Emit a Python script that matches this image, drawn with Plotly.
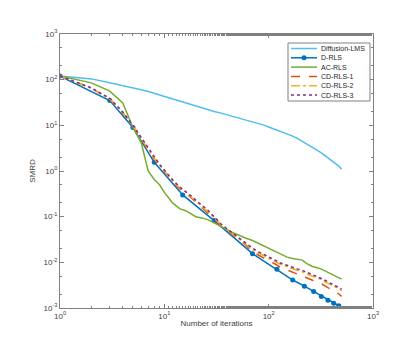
import plotly.graph_objects as go

# ----------------------------------------------------------------------- #
# Data (iterations vs SMRD)
iters = [1, 2, 3, 4, 5, 6, 7, 8, 9, 10, 12, 14, 16, 18, 20, 23, 26, 30, 35, 40, 45, 50,
         60, 70, 80, 90, 100, 115, 130, 150, 170, 190, 210, 230, 260, 290, 320, 350, 380,
         420, 460, 500]

diffusion_lms = [120, 104, 86, 75, 66, 60, 55, 50, 46, 43, 38, 34, 31, 29, 27, 24, 22, 20,
                 18.5, 17, 15.9, 15, 13.5, 12.2, 11.1, 10.1, 9.2, 8.2, 7.3, 6.5, 5.8, 5.1,
                 4.4, 3.95, 3.35, 2.85, 2.5, 2.15, 1.9, 1.6, 1.33, 1.1]

ac_rls = [120, 85, 56, 31, 9, 4.2, 1.0, 0.65, 0.5, 0.34, 0.2, 0.15, 0.135, 0.115, 0.1,
          0.094, 0.086, 0.073, 0.062, 0.052, 0.045, 0.04, 0.034, 0.03, 0.026, 0.023, 0.02,
          0.017, 0.0155, 0.013, 0.0122, 0.0118, 0.0112, 0.0095, 0.0082, 0.0076, 0.0071,
          0.0064, 0.0058, 0.0052, 0.0047, 0.0043]

cd_rls_1 = [120, 65, 37, 18.5, 9.5, 5.0, 2.9, 1.8, 1.3, 0.95, 0.58, 0.41, 0.33, 0.26, 0.21,
            0.16, 0.125, 0.09, 0.063, 0.049, 0.04, 0.033, 0.024, 0.017, 0.0142, 0.0123,
            0.0108, 0.0092, 0.0078, 0.0068, 0.006, 0.0054, 0.005, 0.0046, 0.0041, 0.0037,
            0.0034, 0.003, 0.0027, 0.0024, 0.0021, 0.0018]

cd_rls_2 = [120, 65, 38, 19, 9.8, 5.2, 3.0, 1.9, 1.35, 1.0, 0.6, 0.43, 0.35, 0.27, 0.22,
            0.17, 0.13, 0.095, 0.066, 0.052, 0.042, 0.035, 0.026, 0.019, 0.016, 0.0138,
            0.0122, 0.0104, 0.0091, 0.008, 0.0071, 0.0066, 0.0062, 0.0056, 0.005, 0.0046,
            0.0042, 0.0037, 0.0034, 0.003, 0.0027, 0.0024]

cd_rls_3 = [120, 66, 39, 19.5, 10, 5.4, 3.1, 2.0, 1.4, 1.05, 0.64, 0.45, 0.36, 0.285, 0.23,
            0.18, 0.14, 0.1, 0.069, 0.054, 0.044, 0.037, 0.027, 0.0205, 0.017, 0.0148,
            0.013, 0.0112, 0.0097, 0.0086, 0.0077, 0.0071, 0.0067, 0.006, 0.0054, 0.0049,
            0.0045, 0.004, 0.0036, 0.0032, 0.0029, 0.0026]

# D-RLS drawn through its marker points
d_rls_iters = [1, 3, 5, 8, 15, 30, 70, 120, 170, 220, 270, 320, 370, 420, 470]
d_rls = [120, 35, 9, 1.55, 0.30, 0.082, 0.0155, 0.0071, 0.0041, 0.003, 0.0023, 0.00178,
         0.00148, 0.00127, 0.00112]
d_rls_tail_iters = [470, 500]
d_rls_tail = [0.00112, 0.00105]

x_tickvals = [1, 10, 100, 1000]
x_ticktext = ["10<sup>0</sup>", "10<sup>1</sup>", "10<sup>2</sup>", "10<sup>3</sup>"]
y_tickvals = [1e-3, 1e-2, 1e-1, 1, 10, 100, 1000]
y_ticktext = ["10<sup>-3</sup>", "10<sup>-2</sup>", "10<sup>-1</sup>", "10<sup>0</sup>",
              "10<sup>1</sup>", "10<sup>2</sup>", "10<sup>3</sup>"]

names = ["Diffusion-LMS", "D-RLS", "AC-RLS", "CD-RLS-1", "CD-RLS-2", "CD-RLS-3"]
colors = ["#4DBEEE", "#0072BD", "#77AC30", "#D95319", "#EDB120", "#7E2F8E"]
dashes = ["solid", "solid", "solid", "dash", "dashdot", "dot"]

# ----------------------------------------------------------------------- #
fig = go.Figure()

fig.add_trace(go.Scatter(x=iters, y=diffusion_lms, mode="lines", name=names[0],
                         line=dict(color=colors[0], width=1.5)))
fig.add_trace(go.Scatter(x=d_rls_iters, y=d_rls, mode="lines+markers", name=names[1],
                         line=dict(color=colors[1], width=1.5),
                         marker=dict(color=colors[1], size=5, symbol="circle")))
fig.add_trace(go.Scatter(x=d_rls_tail_iters, y=d_rls_tail, mode="lines",
                         line=dict(color=colors[1], width=1.5)))
fig.add_trace(go.Scatter(x=iters, y=ac_rls, mode="lines", name=names[2],
                         line=dict(color=colors[2], width=1.5)))
fig.add_trace(go.Scatter(x=iters, y=cd_rls_1, mode="lines", name=names[3],
                         line=dict(color=colors[3], width=1.5, dash=dashes[3])))
fig.add_trace(go.Scatter(x=iters, y=cd_rls_2, mode="lines", name=names[4],
                         line=dict(color=colors[4], width=1.5, dash=dashes[4])))
fig.add_trace(go.Scatter(x=iters, y=cd_rls_3, mode="lines", name=names[5],
                         line=dict(color=colors[5], width=1.5, dash=dashes[5])))

# ----------------------------------------------------------------------- #
# Compact MATLAB-style legend (plotly's own legend rows are too tall here)
pw, ph = 313.0, 274.0          # plot area size in px
def px_x(p):
    return p / pw
def px_y(p):
    return 1 - p / ph

box_l, box_r, box_t, box_b = 228, 310, 9, 67
fig.add_shape(type="rect", xref="paper", yref="paper",
              x0=px_x(box_l), x1=px_x(box_r), y0=px_y(box_b), y1=px_y(box_t),
              fillcolor="white", line=dict(color="#808080", width=1), layer="above")
row_h = 9.3
for i, (nm, c, d) in enumerate(zip(names, colors, dashes)):
    yy = px_y(box_t + 5.5 + i * row_h)
    fig.add_shape(type="line", xref="paper", yref="paper",
                  x0=px_x(231), x1=px_x(257), y0=yy, y1=yy,
                  line=dict(color=c, width=1.5, dash=d), layer="above")
    if nm == "D-RLS":
        fig.add_shape(type="circle", xref="paper", yref="paper",
                      x0=px_x(241.5), x1=px_x(246.5), y0=yy - 2.5 / ph, y1=yy + 2.5 / ph,
                      fillcolor=c, line=dict(color=c, width=0), layer="above")
    fig.add_annotation(xref="paper", yref="paper", x=px_x(259), y=yy, text=nm,
                       showarrow=False, xanchor="left", yanchor="middle",
                       font=dict(size=7, color="#262626"))

axis_common = dict(type="log", showgrid=False, zeroline=False, showline=True, mirror="ticks",
                   linecolor="#808080", linewidth=1, ticks="inside", ticklen=4,
                   tickcolor="#808080", tickfont=dict(size=8, color="#404040"),
                   minor=dict(ticks="inside", ticklen=2, tickcolor="#808080", showgrid=False))

fig.update_xaxes(range=[0, 3], tickvals=x_tickvals, ticktext=x_ticktext,
                 title=dict(text="Number of iterations", font=dict(size=8, color="#404040"),
                            standoff=0),
                 **axis_common)
fig.update_yaxes(range=[-3, 3], tickvals=y_tickvals, ticktext=y_ticktext,
                 title=dict(text="SMRD", font=dict(size=8, color="#404040"), standoff=6),
                 **axis_common)

fig.update_layout(
    width=404, height=338,
    margin=dict(l=52, r=39, t=26, b=38),
    paper_bgcolor="white", plot_bgcolor="white",
    showlegend=False,
    font=dict(family="Liberation Sans, Arial, sans-serif", size=8, color="#404040"),
)

fig.write_html("out.html")
